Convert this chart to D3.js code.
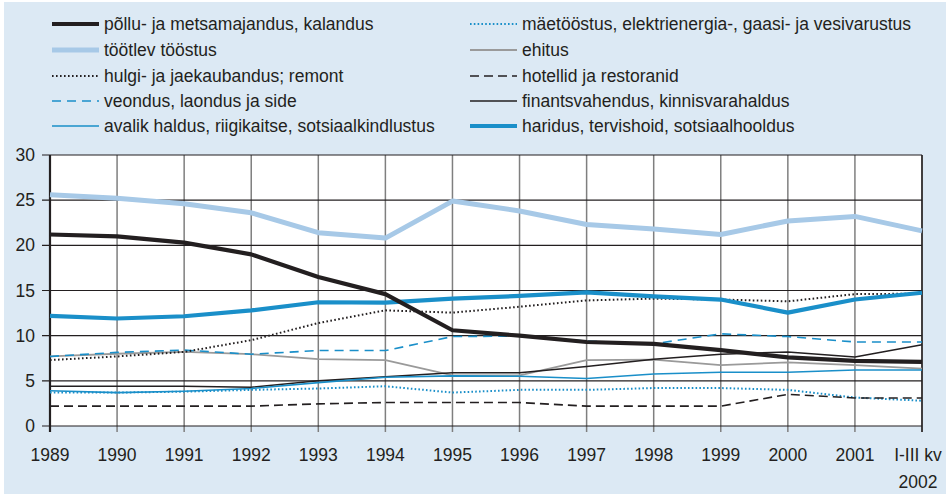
<!DOCTYPE html>
<html>
<head>
<meta charset="utf-8">
<script src="https://cdn.jsdelivr.net/npm/d3@7"></script>
<style>
  body { margin: 0; background: #fff; }
  svg { display: block; font-family: "Liberation Sans", Arial, sans-serif; }
</style>
</head>
<body>
<svg width="952" height="496"></svg>
<script>
const years = ["1989","1990","1991","1992","1993","1994","1995","1996","1997","1998","1999","2000","2001","2002"]
const yTicks = [0, 5, 10, 15, 20, 25, 30]

const pollu    = [21.2, 21.0, 20.3, 19.0, 16.5, 14.6, 10.6, 10.0, 9.3, 9.1, 8.4, 7.6, 7.2, 7.1]
const tootlev  = [25.6, 25.2, 24.6, 23.6, 21.4, 20.8, 24.9, 23.8, 22.3, 21.8, 21.2, 22.7, 23.2, 21.6]
const hulgi    = [7.3, 7.7, 8.2, 9.5, 11.4, 12.8, 12.55, 13.2, 13.9, 14.1, 14.0, 13.8, 14.6, 14.65]
const veondus  = [7.7, 8.15, 8.4, 7.95, 8.35, 8.35, 9.9, 9.95, 9.4, 9.1, 10.2, 9.9, 9.3, 9.3]
const avalik   = [3.9, 3.7, 3.85, 4.15, 4.8, 5.4, 5.55, 5.5, 5.25, 5.75, 5.95, 5.95, 6.2, 6.2]
const maetoo   = [3.7, 3.7, 3.8, 4.0, 4.15, 4.4, 3.7, 4.0, 4.0, 4.2, 4.2, 4.0, 3.15, 2.8]
const ehitus   = [7.7, 8.0, 8.2, 7.95, 7.4, 7.3, 5.6, 5.6, 7.3, 7.35, 6.75, 7.05, 6.75, 6.35]
const hotellid = [2.2, 2.2, 2.2, 2.2, 2.45, 2.6, 2.6, 2.6, 2.2, 2.2, 2.2, 3.5, 3.1, 3.1]
const finants  = [4.4, 4.4, 4.4, 4.3, 5.0, 5.45, 5.9, 5.9, 6.6, 7.4, 7.95, 8.2, 7.65, 9.0]
const haridus  = [12.2, 11.9, 12.15, 12.8, 13.7, 13.65, 14.1, 14.4, 14.8, 14.35, 14.0, 12.55, 14.0, 14.75]

const names = {
    pollu: "põllu- ja metsamajandus, kalandus",
    tootlev: "töötlev tööstus",
    hulgi: "hulgi- ja jaekaubandus; remont",
    veondus: "veondus, laondus ja side",
    avalik: "avalik haldus, riigikaitse, sotsiaalkindlustus",
    maetoo: "mäetööstus, elektrienergia-, gaasi- ja vesivarustus",
    ehitus: "ehitus",
    hotellid: "hotellid ja restoranid",
    finants: "finantsvahendus, kinnisvarahaldus",
    haridus: "haridus, tervishoid, sotsiaalhooldus"
}

const BLACK = "#231f20", BLUE = "#1a8fc9", LIGHT = "#a7c9e7", GRAY = "#9a9a9a"
const FS = 17.5
const styles = {
    pollu:    {color: BLACK, w: 4.2, dash: null},
    tootlev:  {color: LIGHT, w: 5, dash: null},
    hulgi:    {color: BLACK, w: 2, dash: "1.6,2.4"},
    veondus:  {color: BLUE, w: 1.6, dash: "9,6"},
    avalik:   {color: BLUE, w: 1.6, dash: null},
    maetoo:   {color: BLUE, w: 2, dash: "1.6,2.2"},
    ehitus:   {color: GRAY, w: 1.8, dash: null},
    hotellid: {color: BLACK, w: 1.6, dash: "9,5"},
    finants:  {color: BLACK, w: 1.5, dash: null},
    haridus:  {color: BLUE, w: 4.2, dash: null}
}
const data = {pollu, tootlev, hulgi, veondus, avalik, maetoo, ehitus, hotellid, finants, haridus}

const svg = d3.select("svg")
svg.append("rect")
    .attr("x", 4).attr("y", 2).attr("width", 942).attr("height", 492)
    .attr("fill", "#dce9f4")

const plotL = 50, plotR = 922, plotT = 155, plotB = 426
const x = d3.scalePoint().domain(years).range([plotL, plotR])
const y = d3.scaleLinear().domain([0, 30]).range([plotB, plotT])

svg.append("rect")
    .attr("x", plotL).attr("y", plotT).attr("width", plotR - plotL).attr("height", plotB - plotT)
    .attr("fill", "#fff")

// vertical grid
svg.append("g").selectAll("line").data(years.slice(1)).join("line")
    .attr("x1", d => x(d)).attr("x2", d => x(d))
    .attr("y1", plotT).attr("y2", plotB + 6)
    .attr("stroke", "#7f7f7f").attr("stroke-width", 1.5)

// horizontal grid
svg.append("g").selectAll("line").data(yTicks).join("line")
    .attr("x1", plotL - 8).attr("x2", plotR)
    .attr("y1", d => y(d)).attr("y2", d => y(d))
    .attr("stroke", BLACK).attr("stroke-width", 1.2)

svg.append("line")
    .attr("x1", plotR).attr("x2", plotR).attr("y1", plotT).attr("y2", plotB + 6)
    .attr("stroke", BLACK).attr("stroke-width", 1.5)
svg.append("line")
    .attr("x1", plotL).attr("x2", plotL).attr("y1", plotT).attr("y2", plotB + 6)
    .attr("stroke", BLACK).attr("stroke-width", 2.2)

// y labels
svg.append("g").selectAll("text").data(yTicks).join("text")
    .attr("x", 35).attr("y", d => y(d)).attr("dy", "0.35em")
    .attr("text-anchor", "end").attr("font-size", FS).attr("fill", BLACK)
    .text(d => d)

// x labels
svg.append("g").selectAll("text").data(years.slice(0, -1)).join("text")
    .attr("x", d => x(d)).attr("y", 461)
    .attr("text-anchor", "middle").attr("font-size", FS).attr("fill", BLACK)
    .text(d => d)
svg.append("text").attr("x", x("2002") - 4).attr("y", 461)
    .attr("text-anchor", "middle").attr("font-size", FS).attr("fill", BLACK).text("I-III kv")
svg.append("text").attr("x", x("2002") - 4).attr("y", 488)
    .attr("text-anchor", "middle").attr("font-size", FS).attr("fill", BLACK).text("2002")

const line = d3.line().x((d, i) => x(years[i])).y(d => y(d))
const drawOrder = ["ehitus", "maetoo", "hotellid", "finants", "avalik", "veondus", "hulgi", "haridus", "tootlev", "pollu"]
drawOrder.forEach(k => {
    const s = styles[k]
    svg.append("path")
        .attr("d", line(data[k]))
        .attr("fill", "none")
        .attr("stroke", s.color)
        .attr("stroke-width", s.w)
        .attr("stroke-dasharray", s.dash)
        .attr("stroke-linejoin", "round")
})

// legend
const col1 = ["pollu", "tootlev", "hulgi", "veondus", "avalik"]
const col2 = ["maetoo", "ehitus", "hotellid", "finants", "haridus"]
const rowsY = [24, 50, 76, 101, 126]
function legendCol(keys, x0) {
    keys.forEach((k, i) => {
        const s = styles[k]
        svg.append("line")
            .attr("x1", x0).attr("x2", x0 + 47)
            .attr("y1", rowsY[i]).attr("y2", rowsY[i])
            .attr("stroke", s.color).attr("stroke-width", s.w)
            .attr("stroke-dasharray", s.dash)
        svg.append("text")
            .attr("x", x0 + 52).attr("y", rowsY[i]).attr("dy", "0.35em")
            .attr("font-size", FS).attr("fill", BLACK)
            .text(names[k])
    })
}
legendCol(col1, 52)
legendCol(col2, 470)
</script>
</body>
</html>
